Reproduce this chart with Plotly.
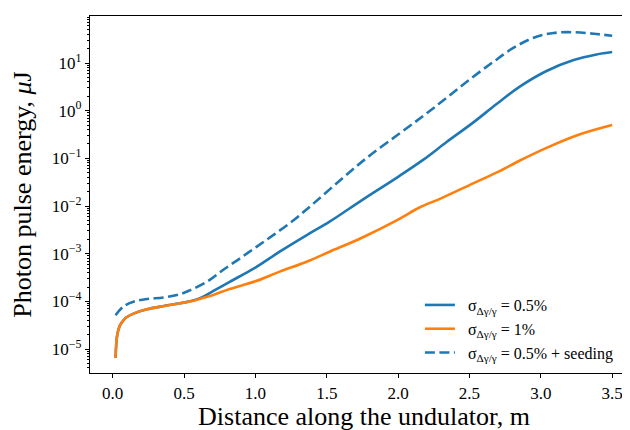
import plotly.graph_objects as go

# Distance along the undulator (m) and photon pulse energy (uJ)
x_blue = [0.02, 0.032, 0.05, 0.075, 0.10, 0.15, 0.24, 0.35, 0.47, 0.55, 0.62, 0.70, 0.82,
          1.00, 1.17, 1.36, 1.52, 1.75, 2.00, 2.18, 2.34, 2.53, 2.69, 2.85, 3.04, 3.23, 3.39, 3.50]
e_blue = [6.5e-6, 2.0e-5, 3.1e-5, 4.0e-5, 4.7e-5, 5.6e-5, 6.8e-5, 7.9e-5, 9.1e-5, 1.02e-4,
          1.2e-4, 1.62e-4, 2.57e-4, 5.1e-4, 1.1e-3, 2.45e-3, 4.7e-3, 1.35e-2, 4.1e-2, 9.5e-2,
          0.22, 0.575, 1.38, 3.16, 6.8, 11.5, 15.1, 17.0]

x_orange = [0.02, 0.032, 0.05, 0.075, 0.10, 0.15, 0.24, 0.35, 0.47, 0.55, 0.62, 0.70, 0.82,
            1.00, 1.17, 1.36, 1.52, 1.75, 2.00, 2.15, 2.30, 2.50, 2.70, 2.85, 3.04, 3.27, 3.50]
e_orange = [6.5e-6, 2.0e-5, 3.1e-5, 4.0e-5, 4.7e-5, 5.6e-5, 6.8e-5, 7.9e-5, 9.1e-5, 1.0e-4,
            1.15e-4, 1.35e-4, 1.82e-4, 2.63e-4, 4.2e-4, 6.8e-4, 1.1e-3, 2.19e-3, 5.2e-3,
            9.3e-3, 1.45e-2, 2.75e-2, 5.2e-2, 8.9e-2, 0.166, 0.316, 0.50]

x_seed = [0.02, 0.075, 0.145, 0.24, 0.355, 0.47, 0.54, 0.66, 0.775, 0.89, 1.01, 1.125, 1.27,
          1.41, 1.60, 1.78, 2.00, 2.18, 2.34, 2.50, 2.67, 2.81, 2.95, 3.09, 3.23, 3.37, 3.50]
e_seed = [5.1e-5, 7.8e-5, 9.8e-5, 1.12e-4, 1.2e-4, 1.41e-4, 1.7e-4, 2.57e-4, 4.6e-4, 7.9e-4,
          1.41e-3, 2.45e-3, 5.1e-3, 1.15e-2, 3.6e-2, 0.102, 0.316, 0.79, 1.86, 4.47, 10.7, 20.9,
          33.9, 42.7, 44.2, 41.2, 37.2]

names = ["σ<sub>Δγ/γ</sub> = 0.5%", "σ<sub>Δγ/γ</sub> = 1%", "σ<sub>Δγ/γ</sub> = 0.5% + seeding"]

x_ticks = [0.0, 0.5, 1.0, 1.5, 2.0, 2.5, 3.0, 3.5]
y_ticks = [1e-5, 1e-4, 1e-3, 1e-2, 1e-1, 1e0, 1e1]
y_ticktext = ["10<sup>−5</sup>", "10<sup>−4</sup>", "10<sup>−3</sup>", "10<sup>−2</sup>",
              "10<sup>−1</sup>", "10<sup>0</sup>", "10<sup>1</sup>"]

minor_vals = [k * 10.0 ** d for d in range(-6, 2) for k in range(2, 10)]

BLUE = "#1f77b4"
ORANGE = "#ff7f0e"
FONT = "Liberation Serif"
PAD = "&nbsp;&nbsp;"

fig = go.Figure()
fig.add_trace(go.Scatter(x=x_blue, y=e_blue, mode="lines", name=PAD + names[0],
                         line=dict(color=BLUE, width=2.6, shape="spline", smoothing=1.0)))
fig.add_trace(go.Scatter(x=x_orange, y=e_orange, mode="lines", name=PAD + names[1],
                         line=dict(color=ORANGE, width=2.6, shape="spline", smoothing=1.0)))
fig.add_trace(go.Scatter(x=x_seed, y=e_seed, mode="lines", name=PAD + names[2],
                         line=dict(color=BLUE, width=2.6, dash="10px,4.5px",
                                   shape="spline", smoothing=1.0)))

fig.update_layout(
    width=630, height=430,
    margin=dict(l=82, r=0, t=8, b=65),
    paper_bgcolor="white", plot_bgcolor="white",
    font=dict(family=FONT, color="black"),
    showlegend=True,
    legend=dict(x=0.602, y=0.238, xanchor="left", yanchor="top",
                bgcolor="rgba(255,255,255,0)", font=dict(size=16, family=FONT),
                tracegroupgap=1),
)
fig.update_xaxes(
    range=[-0.159, 3.681], tickvals=x_ticks, ticktext=[f"{v:.1f}" for v in x_ticks],
    showline=True, linecolor="black", linewidth=1.2, mirror=True, automargin=False,
    ticks="outside", ticklen=4, tickwidth=1, tickcolor="black",
    showgrid=False, zeroline=False,
    tickfont=dict(size=17, family=FONT),
    title=dict(text="Distance along the undulator, m", font=dict(size=26, family=FONT), standoff=0),
)
fig.update_yaxes(
    type="log", range=[-5.503, 1.986], tickvals=y_ticks, ticktext=y_ticktext,
    showline=True, linecolor="black", linewidth=1.2, mirror=False, automargin=False,
    ticks="outside", ticklen=4, tickwidth=1, tickcolor="black",
    showgrid=False, zeroline=False,
    tickfont=dict(size=17, family=FONT),
    minor=dict(tickvals=minor_vals, ticks="outside", ticklen=2, tickwidth=0.8,
               tickcolor="black", showgrid=False),
    title=dict(text="Photon pulse energy, <i>μ</i>J", font=dict(size=26, family=FONT), standoff=13),
)

fig.write_html("out.html")
